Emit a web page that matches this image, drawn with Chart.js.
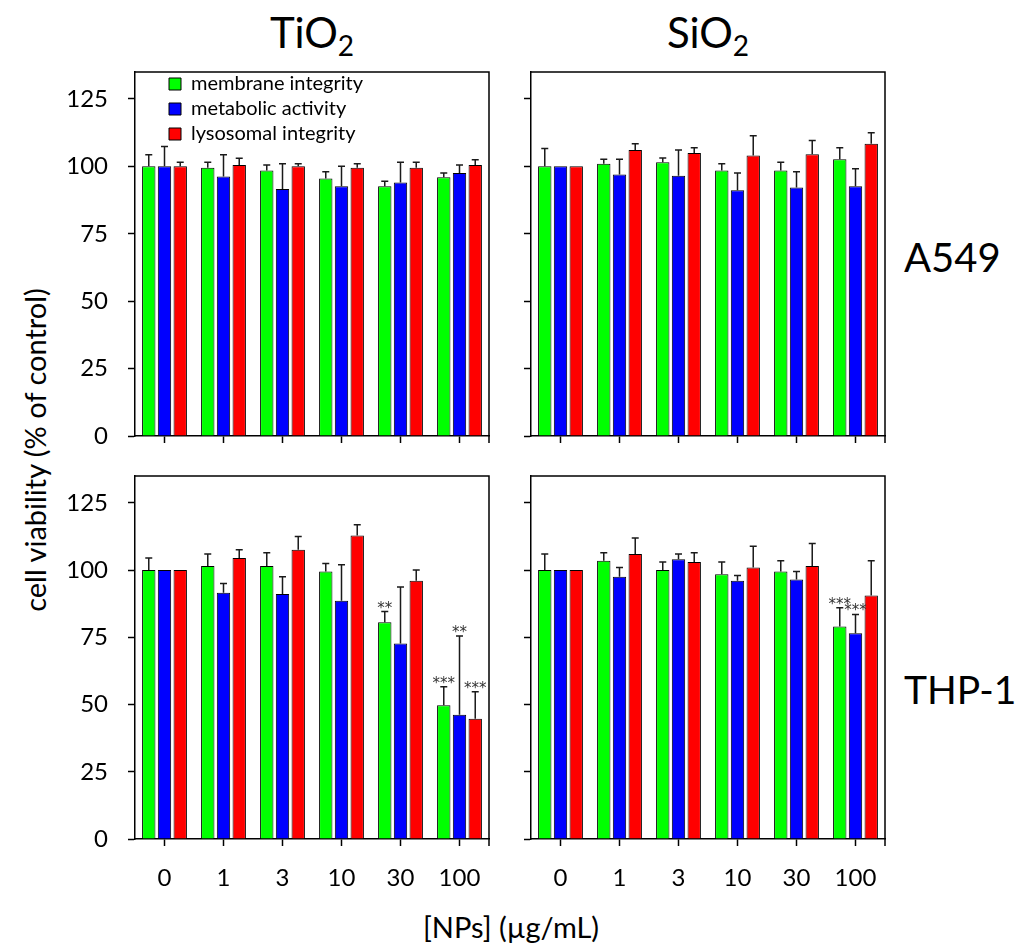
<!DOCTYPE html>
<html><head><meta charset="utf-8">
<script src="https://cdn.jsdelivr.net/npm/chart.js@4.4.1/dist/chart.umd.min.js"></script>
<style>
html,body{margin:0;padding:0;background:#fff}
body{width:1024px;height:945px;position:relative;overflow:hidden;font-family:Lato,"Liberation Sans",sans-serif}
canvas{position:absolute}
.lbl{position:absolute;color:#000;white-space:nowrap;line-height:1}
</style></head><body>
<div class="lbl" style="left:312px;top:32px;font-size:42px;transform:translate(-50%,-50%)">TiO<span style="font-size:28px;position:relative;top:8px">2</span></div>
<div class="lbl" style="left:708px;top:32px;font-size:42px;transform:translate(-50%,-50%)">SiO<span style="font-size:28px;position:relative;top:8px">2</span></div>
<div class="lbl" style="left:904px;top:257px;font-size:40px;transform:translate(0,-50%)">A549</div>
<div class="lbl" style="left:904px;top:689px;font-size:39px;transform:translate(0,-50%)">THP-1</div>
<div class="lbl" style="left:34px;top:450px;font-size:29px;transform:translate(-50%,-50%) rotate(-90deg)">cell viability (% of control)</div>
<div class="lbl" style="left:511px;top:926px;font-size:29px;transform:translate(-50%,-50%)">[NPs] (µg/mL)</div>

<canvas id="tl" width="500" height="390" style="left:0;top:60px"></canvas>
<canvas id="tr" width="400" height="390" style="left:500px;top:60px"></canvas>
<canvas id="bl" width="500" height="430" style="left:0;top:465px"></canvas>
<canvas id="br" width="400" height="430" style="left:500px;top:465px"></canvas>

<script>
const categories = ['0','1','3','10','30','100'];
const seriesNames = ['membrane integrity','metabolic activity','lysosomal integrity'];
const seriesColors = ['#00ff00','#0000ff','#ff0000'];
const yTicks = [0,25,50,75,100,125];

// TiO2 / A549
const tiA549Membrane = [100,99.5,98.5,95.5,92.6,96.0];
const tiA549Metabolic = [100,96.2,91.6,92.6,94.0,97.5];
const tiA549Lysosomal = [100,100.5,100,99.5,99.5,100.5];
const tiA549MembraneErr = [4.3,2.0,2.0,2.5,1.9,1.5];
const tiA549MetabolicErr = [7.4,8.1,9.4,7.4,7.5,3.0];
const tiA549LysosomalErr = [1.5,2.5,1.0,1.5,2.0,2.0];

// SiO2 / A549
const siA549Membrane = [100,101,101.5,98.5,98.5,102.6];
const siA549Metabolic = [100,97.0,96.5,91.1,92.2,92.6];
const siA549Lysosomal = [100,106.1,105.0,104.0,104.5,108.4];
const siA549MembraneErr = [6.6,1.6,1.6,2.5,3.0,4.3];
const siA549MetabolicErr = [0,5.6,9.6,6.4,5.8,6.5];
const siA549LysosomalErr = [0,2.3,1.9,7.4,5.1,4.1];

// TiO2 / THP-1
const tiTHPMembrane = [100,101.5,101.5,99.5,80.6,49.7];
const tiTHPMetabolic = [100,91.6,91.1,88.6,72.7,46.2];
const tiTHPLysosomal = [100,104.5,107.6,112.9,96.0,44.7];
const tiTHPMembraneErr = [4.5,4.5,5.0,3.0,4.0,6.9];
const tiTHPMetabolicErr = [0,3.4,6.4,13.4,21.0,29.3];
const tiTHPLysosomalErr = [0,3.1,4.9,4.0,4.0,10.1];
const tiTHPMembraneSig = ['','','','','**','***'];
const tiTHPMetabolicSig = ['','','','','','**'];
const tiTHPLysosomalSig = ['','','','','','***'];

// SiO2 / THP-1
const siTHPMembrane = [100,103.5,100,98.5,99.5,79.0];
const siTHPMetabolic = [100,97.5,104.0,96.0,96.5,76.5];
const siTHPLysosomal = [100,106.0,103.0,101.0,101.5,90.6];
const siTHPMembraneErr = [6.0,3.0,3.0,4.5,4.0,7.0];
const siTHPMetabolicErr = [0,3.5,2.0,2.0,3.0,7.0];
const siTHPLysosomalErr = [0,5.9,3.5,7.9,8.4,12.9];
const siTHPMembraneSig = ['','','','','','***'];
const siTHPMetabolicSig = ['','','','','','***'];
const siTHPLysosomalSig = ['','','','','',''];

const FONT = 'Lato';

const framePlugin = {
  id: 'frame',
  afterDraw(chart) {
    const {ctx, chartArea: a} = chart;
    ctx.save();
    ctx.strokeStyle = '#000';
    ctx.lineWidth = 1.5;
    ctx.beginPath();
    ctx.moveTo(a.left, a.top);
    ctx.lineTo(a.right, a.top);
    ctx.lineTo(a.right, a.bottom + 7);
    ctx.stroke();
    ctx.restore();
  }
};

const errorPlugin = {
  id: 'errbars',
  afterDatasetsDraw(chart) {
    const {ctx} = chart;
    const y = chart.scales.y;
    ctx.save();
    chart.data.datasets.forEach((ds, i) => {
      const meta = chart.getDatasetMeta(i);
      meta.data.forEach((bar, j) => {
        const e = ds.errorPlus ? ds.errorPlus[j] : 0;
        const v = ds.data[j];
        let topPx = bar.y;
        if (e > 0) {
          topPx = y.getPixelForValue(v + e);
          ctx.strokeStyle = '#1a1a1a';
          ctx.lineWidth = 1.5;
          ctx.beginPath();
          ctx.moveTo(bar.x, bar.y);
          ctx.lineTo(bar.x, topPx);
          ctx.moveTo(bar.x - 3.5, topPx);
          ctx.lineTo(bar.x + 3.5, topPx);
          ctx.stroke();
        }
        const s = ds.sig ? ds.sig[j] : '';
        if (s) {
          ctx.fillStyle = '#333';
          ctx.font = '15px "DejaVu Sans"';
          ctx.textAlign = 'center';
          ctx.textBaseline = 'alphabetic';
          ctx.fillText(s, bar.x, topPx + 1);
        }
      });
    });
    ctx.restore();
  }
};

const legendPlace = {
  id: 'legendPlace',
  afterLayout(chart) {
    const lg = chart.legend;
    const a = chart.chartArea;
    if (lg && chart.options.plugins.legend.display) {
      lg.left = a.left + 29;
      lg.top = a.top - 3;
      lg.right = a.right;
      lg.bottom = a.bottom;
    }
  }
};

function ds(i, data, err, sig) {
  return {
    label: seriesNames[i],
    data: data,
    errorPlus: err,
    sig: sig || null,
    backgroundColor: seriesColors[i],
    borderColor: '#000',
    borderWidth: 1,
    categoryPercentage: 0.8,
    barPercentage: 0.85
  };
}

function panel(id, datasets, o) {
  new Chart(document.getElementById(id), {
    type: 'bar',
    data: { labels: categories, datasets: datasets },
    options: {
      responsive: false,
      animation: false,
      devicePixelRatio: 1,
      layout: { padding: { top: o.padTop, right: o.padRight, left: 0, bottom: 0 } },
      plugins: {
        tooltip: { enabled: false },
        legend: {
          display: !!o.legend,
          position: 'chartArea',
          align: 'start',
          labels: {
            boxWidth: 12, boxHeight: 12, padding: 5, color: '#000',
            font: { family: FONT, size: 20 }
          }
        }
      },
      scales: {
        x: {
          offset: true,
          grid: { offset: false, drawOnChartArea: false, drawTicks: true, tickLength: 7, tickColor: '#000', tickWidth: 1.5 },
          border: { display: true, color: '#000', width: 1.5 },
          ticks: { display: o.xLabels, color: '#000', font: { family: FONT, size: 24 }, padding: 18, maxRotation: 0, autoSkip: false },
          afterFit: s => { s.height = o.xHeight; s.paddingLeft = 0; s.paddingRight = 0; }
        },
        y: {
          min: 0, max: 135,
          afterBuildTicks: s => { s.ticks = yTicks.map(v => ({ value: v })); },
          grid: { drawOnChartArea: false, drawTicks: true, tickLength: 7, tickColor: '#000', tickWidth: 1.5 },
          border: { display: true, color: '#000', width: 1.5 },
          ticks: { display: o.yLabels, color: '#000', font: { family: FONT, size: 24 }, padding: 20 },
          afterFit: s => { s.width = o.yWidth; s.paddingTop = 0; s.paddingBottom = 0; }
        }
      }
    },
    plugins: [framePlugin, errorPlugin, legendPlace]
  });
}

panel('tl', [
  ds(0, tiA549Membrane, tiA549MembraneErr),
  ds(1, tiA549Metabolic, tiA549MetabolicErr),
  ds(2, tiA549Lysosomal, tiA549LysosomalErr)
], { padTop: 12, padRight: 11, xHeight: 14, yWidth: 135, xLabels: false, yLabels: true, legend: true });

panel('tr', [
  ds(0, siA549Membrane, siA549MembraneErr),
  ds(1, siA549Metabolic, siA549MetabolicErr),
  ds(2, siA549Lysosomal, siA549LysosomalErr)
], { padTop: 12, padRight: 15, xHeight: 14, yWidth: 31, xLabels: false, yLabels: false });

panel('bl', [
  ds(0, tiTHPMembrane, tiTHPMembraneErr, tiTHPMembraneSig),
  ds(1, tiTHPMetabolic, tiTHPMetabolicErr, tiTHPMetabolicSig),
  ds(2, tiTHPLysosomal, tiTHPLysosomalErr, tiTHPLysosomalSig)
], { padTop: 11, padRight: 11, xHeight: 56, yWidth: 135, xLabels: true, yLabels: true });

panel('br', [
  ds(0, siTHPMembrane, siTHPMembraneErr, siTHPMembraneSig),
  ds(1, siTHPMetabolic, siTHPMetabolicErr, siTHPMetabolicSig),
  ds(2, siTHPLysosomal, siTHPLysosomalErr, siTHPLysosomalSig)
], { padTop: 11, padRight: 15, xHeight: 56, yWidth: 31, xLabels: true, yLabels: false });
</script>
</body></html>
